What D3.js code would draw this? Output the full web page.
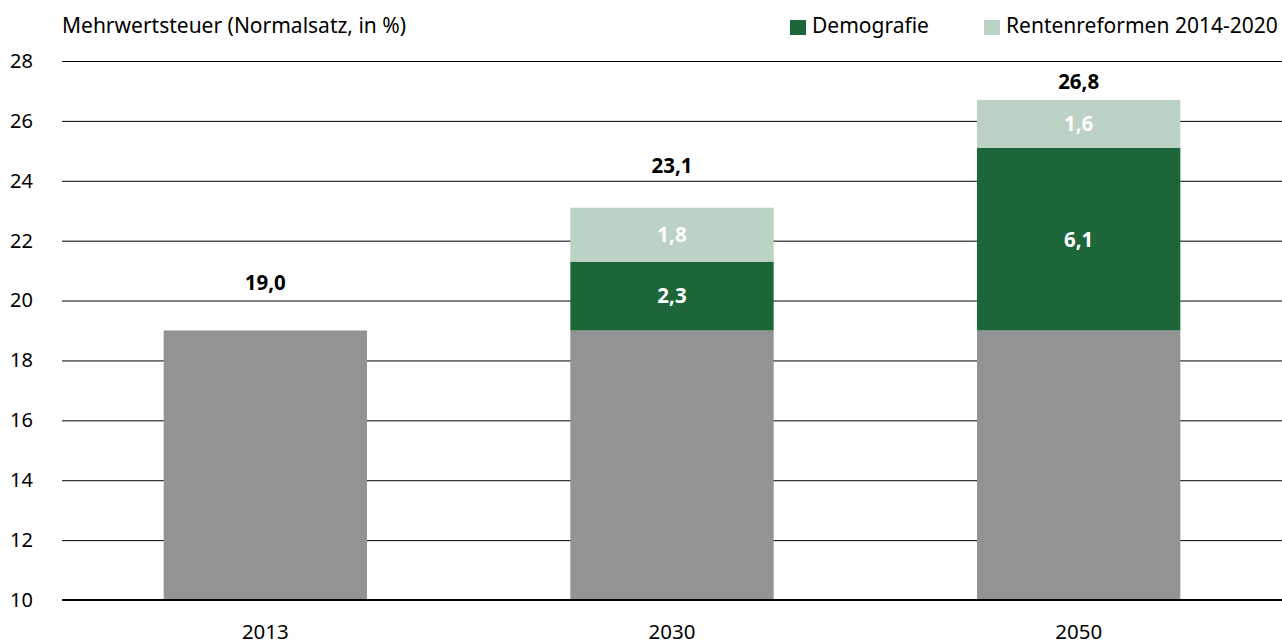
<!DOCTYPE html>
<html>
<head>
<meta charset="utf-8">
<script src="https://cdn.jsdelivr.net/npm/d3@7"></script>
<style>
  body { margin: 0; background: #fff; }
  svg text { font-family: "Noto Sans", sans-serif; }
</style>
</head>
<body>
<div id="graph"></div>
<script>
/* Data */
const years = ["2013", "2030", "2050"];
const basis = [19.0, 19.0, 19.0];
const demografie = [0, 2.3, 6.1];
const rentenreformen = [0, 1.8, 1.6];
const totalLabels = ["19,0", "23,1", "26,8"];
const yTicks = [10, 12, 14, 16, 18, 20, 22, 24, 26, 28];

window.addEventListener("DOMContentLoaded", main)

function main() {
    const W = 1282, H = 644;
    const left = 62, right = 1282, top = 61, bottom = 600;
    const grey = "#939393", dark = "#1c6639", light = "#bbd2c4";
    const fs = 20.5;

    const svg = d3.select("#graph").append("svg").attr("width", W).attr("height", H)

    const x = d3.scaleBand().domain(years).range([left, right]).paddingInner(0.5).paddingOuter(0.25)
    const y = d3.scaleLinear().domain([10, 28]).range([bottom, top])

    /* gridlines + y labels */
    const yAxis = d3.axisLeft(y).tickValues(yTicks).tickSize(-(right - left)).tickFormat(d3.format("d"))
    const gy = svg.append("g").attr("transform", "translate(" + left + ",0)").call(yAxis)
    gy.select(".domain").remove()
    gy.selectAll(".tick line").attr("stroke", "#000").attr("stroke-width", 1)
    gy.selectAll(".tick text").attr("x", -52).attr("text-anchor", "start")
        .attr("font-size", 20).attr("fill", "#000")

    /* stacked bars */
    const rows = years.map((yr, i) => ({ year: yr, basis: basis[i], demografie: demografie[i], rentenreformen: rentenreformen[i] }))
    const keys = ["basis", "demografie", "rentenreformen"]
    const colors = { basis: grey, demografie: dark, rentenreformen: light }
    const stack = d3.stack().keys(keys)(rows)
    stack.forEach(layer => {
        svg.append("g").selectAll("rect")
            .data(layer.filter(d => d[1] - d[0] > 0))
            .enter()
            .append("rect")
            .attr("x", d => x(d.data.year))
            .attr("width", x.bandwidth())
            .attr("y", d => y(d[1]))
            .attr("height", d => y(Math.max(d[0], 10)) - y(d[1]))
            .attr("fill", colors[layer.key])

        if (layer.key != "basis") {
            svg.append("g").selectAll("text")
                .data(layer.filter(d => d[1] - d[0] > 0))
                .enter()
                .append("text")
                .attr("x", d => x(d.data.year) + x.bandwidth() / 2)
                .attr("y", d => y((d[0] + d[1]) / 2))
                .attr("dy", "0.36em")
                .attr("text-anchor", "middle")
                .attr("font-size", fs).attr("font-weight", "bold").attr("fill", "#fff")
                .text(d => d3.format(".1f")(d[1] - d[0]).replace(".", ","))
        }
    })

    /* total labels above bars */
    const lift = [48, 42, 18]
    svg.append("g").selectAll("text")
        .data(rows)
        .enter()
        .append("text")
        .attr("x", d => x(d.year) + x.bandwidth() / 2)
        .attr("y", (d, i) => y(d.basis + d.demografie + d.rentenreformen) - lift[i])
        .attr("dy", "0.36em")
        .attr("text-anchor", "middle")
        .attr("font-size", fs).attr("font-weight", "bold").attr("fill", "#000")
        .text((d, i) => totalLabels[i])

    /* baseline */
    svg.append("line").attr("x1", left).attr("x2", right).attr("y1", bottom).attr("y2", bottom)
        .attr("stroke", "#000").attr("stroke-width", 2)

    /* x labels */
    svg.append("g").selectAll("text")
        .data(years)
        .enter()
        .append("text")
        .attr("x", d => x(d) + x.bandwidth() / 2)
        .attr("y", 639)
        .attr("text-anchor", "middle")
        .attr("font-size", fs).attr("fill", "#000")
        .text(d => d)

    /* title */
    svg.append("text").attr("x", left).attr("y", 33).attr("font-size", 21).attr("fill", "#000")
        .text("Mehrwertsteuer (Normalsatz, in %)")

    /* legend */
    const legend = [
        { text: "Demografie", color: dark, x: 790 },
        { text: "Rentenreformen 2014-2020", color: light, x: 984 },
    ]
    const lg = svg.append("g").selectAll("g").data(legend).enter().append("g")
        .attr("transform", d => "translate(" + d.x + ",0)")
    lg.append("rect").attr("y", 20).attr("width", 16).attr("height", 15).attr("fill", d => d.color)
    lg.append("text").attr("x", 22).attr("y", 33).attr("font-size", 21).attr("fill", "#000").text(d => d.text)
}
</script>
</body>
</html>
